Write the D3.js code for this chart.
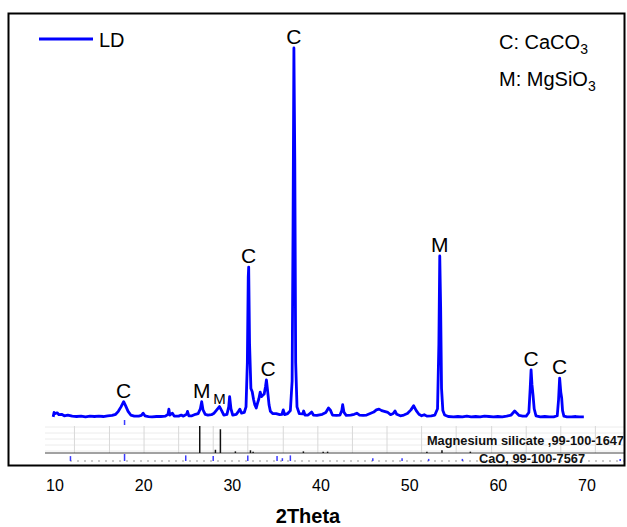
<!DOCTYPE html>
<html>
<head>
<meta charset="utf-8">
<script src="https://cdn.jsdelivr.net/npm/d3@7"></script>
<style>
  body { margin: 0; background: #fff; }
  svg { display: block; font-family: "Liberation Sans", Arial, sans-serif; }
</style>
</head>
<body>
<div id="canvas"></div>
<script>
"use strict"

/* Data: LD pattern (2theta, relative counts) */
let twoTheta = [9.85, 9.95, 10.1, 10.3, 10.5, 10.8, 11.1, 11.5, 12.0, 12.5, 13.0, 13.5, 14.0, 14.5, 15.0, 15.5, 16.0, 16.5, 16.9, 17.2, 17.5, 17.8, 18.0, 18.3, 18.6, 19.0, 19.5, 19.8, 20.0, 20.2, 20.6, 21.0, 21.5, 22.0, 22.5, 22.8, 22.9, 23.0, 23.3, 23.5, 24.0, 24.3, 24.5, 24.9, 25.0, 25.15, 25.5, 25.9, 26.2, 26.45, 26.6, 26.75, 27.0, 27.3, 27.7, 28.0, 28.3, 28.6, 28.85, 29.1, 29.45, 29.65, 29.75, 29.9, 30.1, 30.5, 30.75, 30.9, 31.1, 31.4, 31.6, 31.75, 31.85, 31.9, 32.0, 32.15, 32.3, 32.45, 32.6, 32.75, 32.9, 33.05, 33.2, 33.35, 33.5, 33.65, 33.8, 33.9, 34.05, 34.2, 34.35, 34.6, 35.0, 35.4, 35.65, 35.8, 35.95, 36.3, 36.6, 36.8, 36.9, 37.0, 37.1, 37.2, 37.35, 37.6, 38.0, 38.1, 38.25, 38.6, 39.0, 39.2, 39.6, 40.2, 40.6, 40.9, 41.1, 41.35, 41.8, 42.2, 42.4, 42.5, 42.65, 42.9, 43.4, 43.8, 44.1, 44.4, 44.8, 45.2, 45.6, 46.0, 46.3, 46.6, 46.9, 47.2, 47.6, 47.9, 48.2, 48.4, 48.6, 49.0, 49.4, 49.8, 50.2, 50.5, 50.8, 51.1, 51.4, 51.7, 52.0, 52.5, 52.9, 53.2, 53.35, 53.45, 53.55, 53.65, 53.8, 54.0, 54.4, 55.0, 55.5, 56.0, 56.5, 57.0, 57.5, 58.0, 58.5, 59.0, 59.5, 60.0, 60.5, 61.0, 61.5, 61.9, 62.1, 62.4, 62.8, 63.2, 63.5, 63.65, 63.75, 63.85, 63.97, 64.1, 64.3, 64.8, 65.3, 65.8, 66.3, 66.7, 66.85, 66.97, 67.1, 67.2, 67.3, 67.45, 67.8, 68.3, 68.8, 69.2, 69.7];
let ldCounts = [0.3, 1.5, 1.2, 1.4, 0.9, 1.0, 0.6, 0.8, 0.5, 0.4, 0.5, 0.3, 0.5, 0.4, 0.5, 0.4, 0.6, 0.7, 1.0, 1.8, 3.0, 4.4, 3.4, 1.8, 0.8, 0.5, 0.5, 0.7, 1.3, 0.6, 0.4, 0.3, 0.4, 0.4, 0.5, 1.0, 2.4, 0.8, 1.3, 0.5, 0.5, 0.8, 0.5, 1.0, 1.8, 0.6, 0.6, 1.0, 1.2, 2.5, 4.4, 2.2, 1.0, 0.8, 0.9, 1.3, 2.2, 3.1, 2.0, 0.8, 1.0, 3.0, 5.8, 2.5, 0.8, 1.0, 1.8, 2.4, 1.3, 1.5, 3.0, 15, 38, 40.8, 20, 8, 7.1, 5.0, 3.5, 2.7, 4.0, 5.2, 7.0, 5.8, 6.2, 6.5, 8.5, 10.3, 7.0, 3.5, 1.8, 1.2, 1.2, 0.9, 1.0, 2.2, 0.9, 1.2, 2.0, 10, 50, 100, 70, 15, 3, 1.2, 1.1, 1.9, 0.8, 0.8, 1.6, 0.8, 0.7, 1.0, 1.5, 2.7, 2.2, 0.8, 0.7, 0.8, 2.0, 3.6, 1.5, 0.7, 0.8, 1.0, 1.3, 0.8, 0.7, 0.8, 1.2, 1.6, 2.2, 2.4, 2.0, 1.8, 1.5, 0.9, 1.2, 1.9, 1.0, 0.6, 0.8, 1.2, 2.2, 3.3, 2.0, 1.0, 0.6, 0.9, 0.5, 0.6, 0.8, 2.5, 20, 43.8, 30, 8, 2, 0.8, 0.4, 0.3, 0.4, 0.3, 0.5, 0.3, 0.4, 0.3, 0.5, 0.4, 0.3, 0.4, 0.3, 0.5, 0.8, 1.9, 1.4, 0.7, 0.5, 0.5, 1.5, 8, 13.0, 9, 6.2, 2.5, 0.6, 0.3, 0.4, 0.3, 0.3, 0.6, 5, 10.8, 7, 5.4, 2, 0.5, 0.3, 0.3, 0.4, 0.3, 0.3];

/* Peak labels */
let peakTheta = [17.8, 26.6, 28.6, 31.9, 34.1, 37.0, 53.45, 63.75, 66.97];
let peakText  = ["C", "M", "M", "C", "C", "C", "M", "C", "C"];
let peakSmall = [false, false, true, false, false, false, false, false, false];

/* Reference strips (stick patterns) */
let mgTheta  = [26.38, 28.15, 28.71, 30.4, 32.1, 32.4, 38.07, 40.3, 40.8, 52.0, 53.7, 56.9];
let mgHeight = [100, 12, 88, 6, 10, 5, 6, 5, 5, 5, 10, 5];
let caoTheta  = [11.8, 17.9, 24.8, 27.9, 31.8, 35.1, 35.7, 36.6, 45.9, 49.2, 52.2, 56.0, 73.8];
let caoHeight = [70, 100, 80, 70, 80, 70, 40, 80, 40, 40, 30, 30, 30];
let stripGrid = [12.25, 16.2, 20.1, 24.0, 27.9, 31.8, 35.8, 39.7, 43.6, 47.5, 51.4, 55.3, 59.3, 63.2, 67.1, 71.0];

let xTicks = [10, 20, 30, 40, 50, 60, 70];

/* Drawing config */
let svgWidth = 627;
let svgHeight = 527;
let blue = "#0000ff";

let svg = d3.select("#canvas")
    .append("svg")
    .attr("width", svgWidth)
    .attr("height", svgHeight);

let xScale = d3.scaleLinear()
    .domain([10, 70])
    .range([54.5, 586.5]);

let yScale = d3.scaleLinear()
    .domain([0, 100])
    .range([418, 48]);

/* Reference strip panel */
let panelTop = 426;
let mgBase = 453;
let caoBase = 461;

svg.append("g")
    .selectAll("line")
    .data([427, 433, 439, 445, 451])
    .join("line")
    .attr("x1", 45)
    .attr("x2", 625)
    .attr("y1", d => d)
    .attr("y2", d => d)
    .attr("stroke", "#ececec")
    .attr("stroke-width", 1);

svg.append("g")
    .selectAll("line")
    .data(stripGrid)
    .join("line")
    .attr("x1", d => xScale(d))
    .attr("x2", d => xScale(d))
    .attr("y1", panelTop)
    .attr("y2", mgBase)
    .attr("stroke", "#d8d8d8")
    .attr("stroke-width", 1);

// Magnesium silicate baseline and sticks
svg.append("line")
    .attr("x1", 45)
    .attr("x2", 625)
    .attr("y1", mgBase)
    .attr("y2", mgBase)
    .attr("stroke", "#444")
    .attr("stroke-width", 1);

let mgScale = d3.scaleLinear().domain([0, 100]).range([mgBase, panelTop]);
svg.append("g")
    .selectAll("line")
    .data(mgTheta)
    .join("line")
    .attr("x1", d => xScale(d))
    .attr("x2", d => xScale(d))
    .attr("y1", mgBase)
    .attr("y2", (d, i) => mgScale(mgHeight[i]))
    .attr("stroke", "#111")
    .attr("stroke-width", 1.5);

// CaO baseline (dashed) and sticks
svg.append("line")
    .attr("x1", 70)
    .attr("x2", 625)
    .attr("y1", caoBase)
    .attr("y2", caoBase)
    .attr("stroke", "#999")
    .attr("stroke-width", 1)
    .attr("stroke-dasharray", "2,5");

let caoScale = d3.scaleLinear().domain([0, 100]).range([caoBase, caoBase - 7]);
svg.append("g")
    .selectAll("line")
    .data(caoTheta)
    .join("line")
    .attr("x1", d => xScale(d))
    .attr("x2", d => xScale(d))
    .attr("y1", caoBase)
    .attr("y2", (d, i) => caoScale(caoHeight[i]))
    .attr("stroke", "#3a3aff")
    .attr("stroke-width", 1.5);

// small CaO marker under the curve
svg.append("line")
    .attr("x1", xScale(17.9))
    .attr("x2", xScale(17.9))
    .attr("y1", 420)
    .attr("y2", 425)
    .attr("stroke", "#3a3aff")
    .attr("stroke-width", 1.5);

svg.append("text")
    .attr("x", 624)
    .attr("y", 445)
    .attr("text-anchor", "end")
    .style("font-size", "12.8px")
    .style("font-weight", "bold")
    .attr("fill", "#111")
    .text("Magnesium silicate ,99-100-1647");

svg.append("text")
    .attr("x", 585)
    .attr("y", 462.5)
    .attr("text-anchor", "end")
    .style("font-size", "12.8px")
    .style("font-weight", "bold")
    .attr("fill", "#111")
    .text("CaO, 99-100-7567");

/* LD pattern line */
let line = d3.line()
    .x((d, i) => xScale(twoTheta[i]))
    .y(d => yScale(d));

svg.append("path")
    .datum(ldCounts)
    .attr("fill", "none")
    .attr("stroke", blue)
    .attr("stroke-width", 2.8)
    .attr("stroke-linejoin", "round")
    .attr("d", line);

/* Peak labels, placed just above each peak */
function peakTop(t) {
    let best = 0;
    twoTheta.forEach(function (v, i) {
        if (Math.abs(v - t) <= 0.3 && ldCounts[i] > best) best = ldCounts[i];
    });
    return best;
}

svg.append("g")
    .selectAll("text")
    .data(peakTheta)
    .join("text")
    .attr("x", d => xScale(d))
    .attr("y", (d, i) => yScale(peakTop(d)) - (peakSmall[i] ? 3 : 4))
    .attr("text-anchor", "middle")
    .style("font-size", (d, i) => peakSmall[i] ? "15px" : "21px")
    .attr("fill", "#000")
    .text((d, i) => peakText[i]);

/* Frame */
svg.append("rect")
    .attr("x", 8.5)
    .attr("y", 13.5)
    .attr("width", 616)
    .attr("height", 452)
    .attr("fill", "none")
    .attr("stroke", "#000")
    .attr("stroke-width", 2);

/* Legend */
svg.append("line")
    .attr("x1", 39)
    .attr("x2", 93)
    .attr("y1", 39)
    .attr("y2", 39)
    .attr("stroke", blue)
    .attr("stroke-width", 2.8);

svg.append("text")
    .attr("x", 99)
    .attr("y", 46.5)
    .style("font-size", "20px")
    .text("LD");

let key1 = svg.append("text")
    .attr("x", 499)
    .attr("y", 49)
    .style("font-size", "20px");
key1.append("tspan").text("C: CaCO");
key1.append("tspan").attr("dy", 5).style("font-size", "14px").text("3");

let key2 = svg.append("text")
    .attr("x", 499)
    .attr("y", 86)
    .style("font-size", "20px");
key2.append("tspan").text("M: MgSiO");
key2.append("tspan").attr("dy", 5).style("font-size", "14px").text("3");

/* X axis */
let xAxis = d3.axisBottom(xScale)
    .tickValues(xTicks)
    .tickSize(0)
    .tickPadding(0)
    .tickFormat(d3.format("d"));

let axisG = svg.append("g")
    .attr("transform", "translate(0, 480)")
    .call(xAxis);
axisG.select(".domain").remove();
axisG.selectAll("text")
    .style("font-size", "16px")
    .style("font-family", "\"Liberation Sans\", Arial, sans-serif")
    .attr("fill", "#000");

svg.append("text")
    .attr("x", 308)
    .attr("y", 523)
    .attr("text-anchor", "middle")
    .style("font-size", "20px")
    .style("font-weight", "bold")
    .text("2Theta");
</script>
</body>
</html>
